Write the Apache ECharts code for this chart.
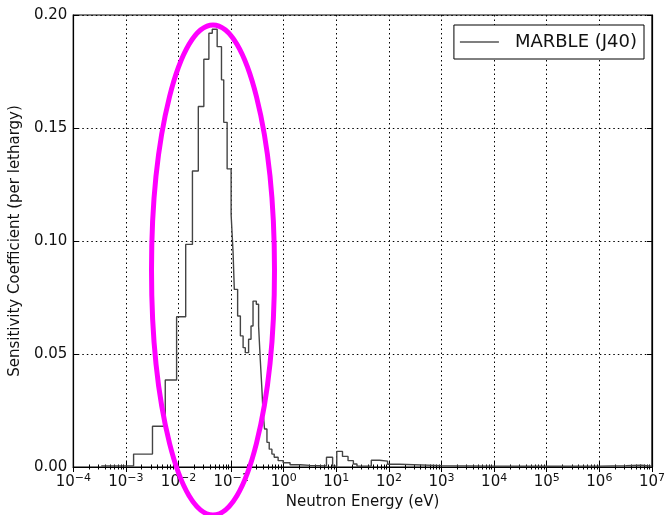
<!DOCTYPE html>
<html>
<head>
<meta charset="utf-8">
<script src="https://cdn.jsdelivr.net/npm/echarts@6/dist/echarts.min.js"></script>
<style>html,body{margin:0;padding:0;background:#fff}#c{width:668px;height:515px}</style>
</head>
<body>
<div id="c"></div>
<script>
// Bin left edges (neutron energy, eV) and sensitivity per lethargy in each bin
const binEdges = [3.4e-4, 1.4e-3, 3.2e-3, 5.6e-3, 9.2e-3, 1.37e-2, 1.84e-2, 2.38e-2, 3.03e-2, 3.78e-2,
  4.38e-2, 5.43e-2, 6.56e-2, 7.24e-2, 8.4e-2, 0.100, 0.109, 0.115, 0.133, 0.150,
  0.169, 0.186, 0.215, 0.239, 0.261, 0.301, 0.333, 0.358, 0.385, 0.403,
  0.432, 0.480, 0.530, 0.596, 0.659, 0.783, 0.975, 1.32, 2.04, 3.16,
  6.5, 8.5, 10.2, 13.1, 16.7, 21.1, 24.7, 46.2, 66.4, 94.2,
  158, 1000, 1.0e4, 1.0e5, 1.0e6, 3.2e6, 6.3e6, 1.0e7];
const binValues = [0.0005, 0.0057, 0.018, 0.0385, 0.0665, 0.0985, 0.131, 0.1595, 0.1804, 0.1919,
  0.1937, 0.186, 0.1713, 0.1525, 0.1319, 0.1117, 0.0948, 0.0786, 0.0668, 0.058,
  0.0528, 0.0506, 0.0565, 0.0624, 0.0734, 0.072, 0.0624, 0.0477, 0.0344, 0.0249,
  0.0168, 0.0109, 0.0079, 0.0057, 0.0043, 0.0028, 0.0019, 0.0010, 0.0007, 0.0005,
  0.0043, 0.0004, 0.0069, 0.0047, 0.0028, 0.0013, 0.0004, 0.0030, 0.0026, 0.0012,
  0.0006, 0.0004, 0.0003, 0.0004, 0.0006, 0.0008, 0.0004];
const yTicks = [0, 0.05, 0.10, 0.15, 0.20];
const seriesName = 'MARBLE (J40)';
const xTitle = 'Neutron Energy (eV)';
const yTitle = 'Sensitivity Coefficient (per lethargy)';

const stepData = binValues.map((v, i) => [binEdges[i], v]);
stepData.push([binEdges[binEdges.length - 1], binValues[binValues.length - 1]]);

const FONT = 'DejaVu Sans';
const chart = echarts.init(document.getElementById('c'), null, {renderer: 'canvas'});

function expLabel(value) {
  const e = Math.round(Math.log10(value));
  const s = (e < 0 ? '\u2212' : '') + Math.abs(e);
  return '{b|10}{s|' + s + '}';
}
const gridDash = [1.5, 3];

chart.setOption({
  animation: false,
  textStyle: {fontFamily: FONT, color: '#000'},
  grid: {left: 72, right: 14, top: 15, bottom: 47, show: true, borderColor: '#000', borderWidth: 1.2, backgroundColor: '#fff'},
  legend: {
    data: [{name: seriesName, icon: 'rect'}], right: 24, top: 25, orient: 'vertical',
    itemWidth: 39, itemHeight: 1.6, padding: [7, 7, 7, 6],
    itemStyle: {color: '#555'},
    borderColor: '#000', borderWidth: 1, backgroundColor: '#fff',
    textStyle: {fontFamily: FONT, fontSize: 18, color: '#111', padding: [0, 0, 0, 11], lineHeight: 20}
  },
  xAxis: [{
    type: 'log', logBase: 10, min: 1e-4, max: 1e7, interval: 1, splitNumber: 11,
    name: xTitle, nameLocation: 'middle', nameGap: 28,
    nameTextStyle: {fontFamily: FONT, fontSize: 15, color: '#111'},
    axisLine: {show: true, lineStyle: {color: '#000', width: 1.2}},
    axisTick: {show: true, inside: true, length: 5, lineStyle: {color: '#000'}},
    minorTick: {show: true, splitNumber: 9, length: 2.5, lineStyle: {color: '#000'}},
    axisLabel: {
      margin: 6, formatter: expLabel,
      rich: {
        b: {fontFamily: FONT, fontSize: 15, color: '#111', lineHeight: 18},
        s: {fontFamily: FONT, fontSize: 11, color: '#111', verticalAlign: 'top', lineHeight: 11}
      }
    },
    splitLine: {show: true, lineStyle: {color: '#000', type: gridDash, width: 1}}
  }, {
    type: 'log', logBase: 10, min: 1e-4, max: 1e7, interval: 1, splitNumber: 11, position: 'top',
    axisLine: {show: true, lineStyle: {color: '#000', width: 1.2}},
    axisTick: {show: true, inside: true, length: 5, lineStyle: {color: '#000'}},
    minorTick: {show: true, splitNumber: 9, length: 2.5, lineStyle: {color: '#000'}},
    axisLabel: {show: false}, splitLine: {show: false}
  }],
  yAxis: [{
    type: 'value', min: 0, max: 0.2, interval: 0.05,
    name: yTitle, nameLocation: 'middle', nameGap: 47, nameRotate: 90,
    nameTextStyle: {fontFamily: FONT, fontSize: 15, color: '#111'},
    axisLine: {show: true, lineStyle: {color: '#000', width: 1.2}},
    axisTick: {show: true, inside: true, length: 5, lineStyle: {color: '#000'}},
    axisLabel: {margin: 6, fontFamily: FONT, fontSize: 15, color: '#111',
      formatter: v => yTicks.indexOf(Math.round(v * 100) / 100) >= 0 ? v.toFixed(2) : ''},
    splitLine: {show: true, lineStyle: {color: '#000', type: gridDash, width: 1}}
  }, {
    type: 'value', min: 0, max: 0.2, interval: 0.05, position: 'right',
    axisLine: {show: true, lineStyle: {color: '#000', width: 1.2}},
    axisTick: {show: true, inside: true, length: 5, lineStyle: {color: '#000'}},
    axisLabel: {show: false}, splitLine: {show: false}
  }],
  series: [{
    name: seriesName, type: 'line', step: 'end', data: stepData,
    xAxisIndex: 0, yAxisIndex: 0,
    symbol: 'none', showSymbol: false,
    lineStyle: {color: '#444', width: 1.4},
    itemStyle: {color: '#444'},
    z: 5
  }],
  graphic: [{
    type: 'ellipse', z: 100,
    shape: {cx: 213, cy: 270, rx: 61.5, ry: 245},
    style: {fill: 'none', stroke: '#ff00ff', lineWidth: 5}
  }]
});
</script>
</body>
</html>
